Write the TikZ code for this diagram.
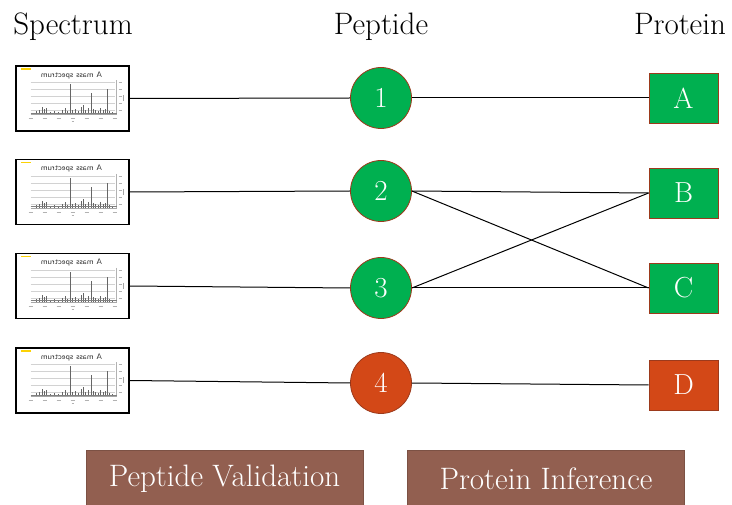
\documentclass[tikz,border=0pt]{standalone}
\usepackage{graphicx}
\definecolor{pgreen}{HTML}{00B050}
\definecolor{porange}{HTML}{D34817}
\definecolor{pborder}{HTML}{9C3A1C}
\definecolor{sbrown}{HTML}{925F50}
\tikzset{
  specbox/.style={draw=black, line width=1.3pt, fill=white, minimum width=113pt, minimum height=65pt, inner sep=0pt},
  pepnode/.style={circle, draw=pborder, line width=0.8pt, minimum size=61pt, inner sep=0pt, text=white, font=\fontsize{29}{29}\selectfont},
  protnode/.style={draw=pborder, line width=0.8pt, minimum width=69pt, minimum height=50pt, inner sep=0pt, text=white, font=\fontsize{29}{29}\selectfont},
  stagebox/.style={fill=sbrown, draw=sbrown!85!black, line width=0.6pt, minimum width=277pt, minimum height=56pt, inner sep=0pt, text=white, font=\fontsize{31}{31}\selectfont},
  headtext/.style={font=\fontsize{31}{31}\selectfont, inner sep=0pt, anchor=base},
  link/.style={line width=1pt, black},
  pics/spectrum/.style={code={
    \fill[yellow!70!orange] (-52,-30) rectangle (-42,-28.5);
    \node[inner sep=0pt, font=\sffamily\fontsize{8}{8}\selectfont, text=black!80] at (-1,-23) {\reflectbox{A mass spectrum}};
    \foreach \gy in {-16,-9,-2,5,12} \draw[gray!35, line width=0.3pt] (-42,\gy) -- (42,\gy);
    \draw[gray!60, line width=0.3pt] (44,-18) -- (44,16);
    \foreach \gy in {-16,-9,-2,5,12} \draw[gray!60, line width=0.4pt] (46,\gy) -- (49,\gy);
    \draw[gray!70, line width=0.5pt] (51,-3) -- (51,3);
    \draw[gray!70, line width=0.3pt] (-42,16) -- (44,16);
    \foreach \gx in {-42,-28,-14,0,14,28,42} \draw[gray!60, line width=0.4pt] (\gx-2,20) -- (\gx+2,20);
    \draw[gray!60, line width=0.4pt] (-1,23) -- (1,23);
    \foreach \px/\ph in {-36/3,-33/4,-30/7,-28/5,-26/6,-22/2,-18/3,-14/2,-10/4,-7/6,-5/3,-2/30,0/4,3/5,6/3,9/7,11/9,13/4,16/6,19/21,21/5,23/4,26/3,28/6,31/4,33/5,35/25,37/3,40/2}
      \draw[black!60, line width=0.4pt] (\px,16) -- (\px,16-\ph);
    \draw[black!50, line width=0.4pt] (-42,14.5) -- (44,14.5);
  }}
}
\begin{document}
\begin{tikzpicture}[x=1pt,y=-1pt]
\useasboundingbox (0,0) rectangle (732,505);
% headers
\node[headtext] (hspec) at (73,35) {Spectrum};
\node[headtext] (hpep) at (381,35) {Peptide};
\node[headtext] (hprot) at (680,35) {Protein};
% spectra
\foreach \i/\y in {1/98.5,2/192,3/286,4/380.5}{
  \node[specbox] (s\i) at (72.5,\y) {};
  \pic at (72.5,\y) {spectrum};
}
% peptides
\node[pepnode, fill=pgreen] (p1) at (381,98) {1};
\node[pepnode, fill=pgreen] (p2) at (381,191) {2};
\node[pepnode, fill=pgreen] (p3) at (381,288) {3};
\node[pepnode, fill=porange] (p4) at (381,383) {4};
% proteins
\node[protnode, fill=pgreen] (A) at (683.5,98) {A};
\node[protnode, fill=pgreen] (B) at (683.5,193) {B};
\node[protnode, fill=pgreen] (C) at (683.5,288) {C};
\node[protnode, fill=porange] (D) at (683.5,385) {D};
% links
\draw[link] (s1.east) -- (p1.west);
\draw[link] (s2.east) -- (p2.west);
\draw[link] (s3.east) -- (p3.west);
\draw[link] (s4.east) -- (p4.west);
\draw[link] (p1.east) -- (A.west);
\draw[link] (p2.east) -- (B.west);
\draw[link] (p2.east) -- (C.west);
\draw[link] (p3.east) -- (B.west);
\draw[link] (p3.east) -- (C.west);
\draw[link] (p4.east) -- (D.west);
% stages
\node[stagebox] (pv) at (224.5,478.5) {Peptide Validation};
\node[stagebox] (pi) at (546,478.5) {Protein Inference};
\end{tikzpicture}
\end{document}
